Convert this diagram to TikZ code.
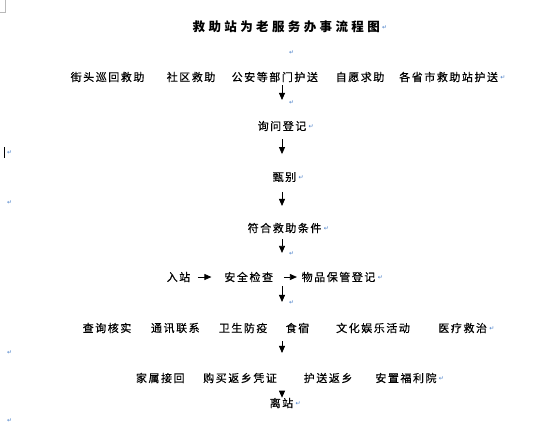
\documentclass[tikz,border=0pt]{standalone}
\usepackage{fontspec}
\usepackage{xcolor}
\usetikzlibrary{arrows.meta}
\usetikzlibrary{positioning}
\newfontfamily\cjk{Noto Sans CJK SC}[LetterSpace=14,FakeBold=0.4]
\newfontfamily\cjktitle{Noto Sans CJK SC}[LetterSpace=27]
\newfontfamily\markfont{DejaVu Sans}
\definecolor{markblue}{RGB}{70,125,200}

\begin{document}
\begin{tikzpicture}[x=1pt,y=-1pt,
    txt/.style={anchor=west,inner sep=0pt,font=\cjk\fontsize{11}{11}\selectfont},
    titletxt/.style={anchor=west,inner sep=0pt,font=\cjktitle\bfseries\fontsize{12.5}{12.5}\selectfont},
    pmark/.style={anchor=west,inner sep=0pt,text=markblue,yshift=-1pt,font=\markfont\fontsize{6}{6}\selectfont},
    flow/.style={line width=0.8pt,-{Triangle[width=6pt,length=7pt]}}]
        \newcommand{\flowaxisx}{282}
        \newcommand{\flowmarkx}{289}
        \newcommand{\flowleftmarkx}{7}
        \newcommand{\flowtitley}{27}
        \newcommand{\flowrowoney}{77}
        \newcommand{\flowrowtwoy}{126}
        \newcommand{\flowrowthreey}{177}
        \newcommand{\flowrowfoury}{228}
        \newcommand{\flowrowfivey}{277}
        \newcommand{\flowrowsixy}{328}
        \newcommand{\flowrowseveny}{378}
        \newcommand{\flowrowweighty}{403}
        \fill[white] (0,0) rectangle (548,432);
        \useasboundingbox (0,0) rectangle (548,432);
        % page corner and cursor
        \draw[gray!55] (5,0) -- (5,12) -- (0,12);
        \draw[line width=0.7pt] (4,147) -- (4,158);
        \coordinate (axis) at (\flowaxisx,0);
        % title
        \node[titletxt] (title) at (192.5,\flowtitley) {救助站为老服务办事流程图};
        \node[pmark, right=2pt of title] (titlemark) {↵};
        \node[pmark] (emptymark) at (\flowmarkx,52) {↵};
        % sources
        \node[txt] (jietou) at (70.5,\flowrowoney) {街头巡回救助};
        \node[txt] (shequ) at (166.5,\flowrowoney) {社区救助};
        \node[txt] (gongan) at (231.5,\flowrowoney) {公安等部门护送};
        \node[txt] (ziyuan) at (335.5,\flowrowoney) {自愿求助};
        \node[txt] (gesheng) at (399,\flowrowoney) {各省市救助站护送};
        \node[pmark, right=2pt of gesheng] (geshengmark) {↵};
        \node[pmark] (arrowamark) at (\flowmarkx,102) {↵};
        % main steps
        \node[txt] (xunwen) at (257.5,\flowrowtwoy) {询问登记};
        \node[pmark, right=2pt of xunwen] (xunwenmark) {↵};
        \node[txt] (zhenbie) at (272.5,\flowrowthreey) {甄别};
        \node[pmark, right=2pt of zhenbie] (zhenbiemark) {↵};
        \node[txt] (fuhe) at (247.5,\flowrowfoury) {符合救助条件};
        \node[pmark, right=2pt of fuhe] (fuhemark) {↵};
        \node[pmark] (arrowdmark) at (\flowmarkx,253) {↵};
        \node[txt] (ruzhan) at (166.5,\flowrowfivey) {入站};
        \node[txt] (anquan) at (224.2,\flowrowfivey) {安全检查};
        \node[txt] (wupin) at (301.5,\flowrowfivey) {物品保管登记};
        \node[pmark, right=2pt of wupin] (wupinmark) {↵};
        \node[pmark] (arrowemark) at (\flowmarkx,302) {↵};
        % services
        \node[txt] (chaxun) at (82.5,\flowrowsixy) {查询核实};
        \node[txt] (tongxun) at (150.8,\flowrowsixy) {通讯联系};
        \node[txt] (weisheng) at (218.6,\flowrowsixy) {卫生防疫};
        \node[txt] (shisu) at (285.5,\flowrowsixy) {食宿};
        \node[txt] (wenhua) at (336,\flowrowsixy) {文化娱乐活动};
        \node[txt] (yiliao) at (438.2,\flowrowsixy) {医疗救治};
        \node[pmark, right=2pt of yiliao] (yiliaomark) {↵};
        % leaving
        \node[txt] (jiashu) at (135.8,\flowrowseveny) {家属接回};
        \node[txt] (goumai) at (203,\flowrowseveny) {购买返乡凭证};
        \node[txt] (husong) at (303.6,\flowrowseveny) {护送返乡};
        \node[txt] (anzhi) at (375.2,\flowrowseveny) {安置福利院};
        \node[pmark, right=2pt of anzhi] (anzhimark) {↵};
        \node[txt] (lizhan) at (269.5,\flowrowweighty) {离站};
        \node[pmark, right=2pt of lizhan] (lizhanmark) {↵};
        % empty lines at the left
        \node[pmark] (leftmarka) at (\flowleftmarkx,152) {↵};
        \node[pmark] (leftmarkb) at (\flowleftmarkx,202) {↵};
        \node[pmark] (leftmarkc) at (\flowleftmarkx,352) {↵};
        \node[pmark] (leftmarkd) at (\flowleftmarkx,420) {↵};
        % arrows
        \draw[flow, shorten <=2.75pt, shorten >=20.75pt] (gongan.south -| axis) -- (xunwen.north -| axis);
        \draw[flow, shorten <=7.75pt, shorten >=17.75pt] (xunwen.south -| axis) -- (zhenbie.north -| axis);
        \draw[flow, shorten <=9.75pt, shorten >=16.75pt] (zhenbie.south -| axis) -- (fuhe.north -| axis);
        \draw[flow, shorten <=5.75pt, shorten >=18.75pt] (fuhe.south -| axis) -- (anquan.north -| axis);
        \draw[flow, shorten <=3.75pt, shorten >=20.75pt] (anquan.south -| axis) -- (shisu.north -| axis);
        \draw[flow, shorten <=7.75pt, shorten >=19.75pt] (shisu.south -| axis) -- (goumai.north -| axis);
        \draw[flow, shorten <=8.75pt, shorten >=0pt] (goumai.south -| axis) -- (lizhan.north -| axis);
        \draw[flow, shorten <=7.4pt, shorten >=12.8pt] (ruzhan.east) -- (anquan.west);
        \draw[flow, shorten <=10.7pt, shorten >=4.6pt] (anquan.east) -- (wupin.west);
    \end{tikzpicture}
\end{document}
